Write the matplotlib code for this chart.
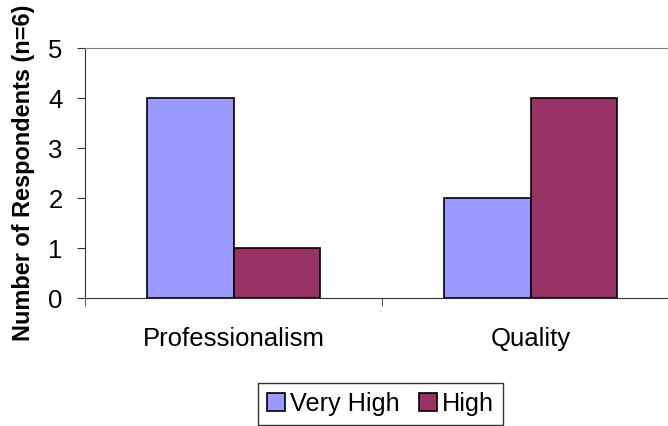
import matplotlib
matplotlib.use("Agg")
import matplotlib.pyplot as plt
import numpy as np

categories = ["Professionalism", "Quality"]
very_high = [4, 2]
high = [1, 4]
series_names = ["Very High", "High"]
y_ticks = [0, 1, 2, 3, 4, 5]

plt.rcParams["font.family"] = ["Liberation Sans", "DejaVu Sans"]

fig = plt.figure(figsize=(6.68, 4.26), dpi=100)
# plot area spans a little past the right edge of the figure
ax = fig.add_axes([85 / 668, 1 - 298 / 426, 594 / 668, 250 / 426])

x = np.arange(len(categories)) + 0.5
w = 0.29
ax.bar(x - w / 2, very_high, w, color="#9999FF", edgecolor="black", linewidth=1.2, label=series_names[0])
ax.bar(x + w / 2, high, w, color="#993366", edgecolor="black", linewidth=1.2, label=series_names[1])

ax.set_xlim(0, 2)
ax.set_ylim(0, 5)
ax.set_yticks(y_ticks)
ax.set_xticks(x)
ax.set_xticklabels(categories, fontsize=18.5)
ax.tick_params(axis="x", length=0, pad=21)
ax.set_xticks([0, 1, 2], minor=True)
ax.tick_params(axis="x", which="minor", length=6, direction="out", color="#333333")
ax.tick_params(axis="y", length=6, direction="out", color="#333333", labelsize=18.5, pad=10)

ax.spines["right"].set_visible(False)
ax.spines["top"].set_color("#808080")
ax.spines["left"].set_color("#333333")
ax.spines["bottom"].set_color("#333333")

ax.set_ylabel("Number of Respondents (n=6)", fontsize=16.9, fontweight="bold", labelpad=10)

leg = fig.legend(loc="upper left", bbox_to_anchor=(258 / 668, 1 - 383 / 426), ncol=2,
                 fontsize=18.2, frameon=True, fancybox=False, edgecolor="black",
                 handlelength=0.7, handleheight=0.7, handletextpad=0.2, columnspacing=0.8,
                 borderpad=0.35, borderaxespad=0)
leg.get_frame().set_linewidth(1.0)

fig.savefig("out.png", dpi=100)
